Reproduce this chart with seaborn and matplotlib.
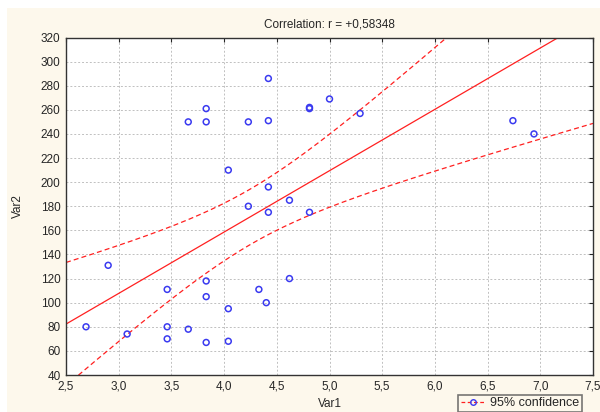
import numpy as np
import pandas as pd
import matplotlib
matplotlib.use("Agg")
import matplotlib.pyplot as plt
import seaborn as sns
from matplotlib.lines import Line2D
from matplotlib.patches import Rectangle

# Data
var1 = [2.90, 2.69, 3.08, 3.46, 3.46, 3.46, 3.66, 3.66, 3.83, 3.83,
        3.83, 3.83, 3.83, 4.04, 4.04, 4.04, 4.23, 4.23, 4.42, 4.42,
        4.42, 4.42, 4.62, 4.81, 4.81, 4.81, 5.00, 5.29, 6.74, 6.94,
        4.33, 4.40, 4.62]
var2 = [131, 80, 74, 111, 80, 70, 78, 250, 261, 250,
        118, 105, 67, 68, 95, 210, 250, 180, 175, 196,
        286, 251, 185, 261, 262, 175, 269, 257, 251, 240,
        111, 100, 120]

# fitted line as drawn in the picture (intercept, slope)
fit_intercept = -45.0
fit_slope = 50.9

x_ticks = [2.5, 3.0, 3.5, 4.0, 4.5, 5.0, 5.5, 6.0, 6.5, 7.0, 7.5]
y_ticks = list(range(40, 321, 20))

df = pd.DataFrame({"Var1": var1, "Var2": var2})

# 95% confidence band of the fitted mean
x = df["Var1"].values
y = df["Var2"].values
n = len(x)
b, a = np.polyfit(x, y, 1)
s = np.sqrt(np.sum((y - (a + b * x)) ** 2) / (n - 2))
sxx = np.sum((x - x.mean()) ** 2)
t = 2.04
xs = np.linspace(2.5, 7.5, 200)
yfit = fit_intercept + fit_slope * xs
half = t * s * np.sqrt(1 / n + (xs - x.mean()) ** 2 / sxx)
fit = pd.DataFrame({"x": xs, "fit": yfit, "lo": yfit - half, "hi": yfit + half})

sns.set_style("white")
plt.rcParams["font.family"] = ["Liberation Sans", "DejaVu Sans"]

fig = plt.figure(figsize=(6.0, 4.12), dpi=100, facecolor="white")
# cream panel behind the chart
fig.patches.append(Rectangle((7 / 600, 0), 1, 1 - 8 / 412, transform=fig.transFigure,
                             facecolor="#fdf8ec", edgecolor="none", zorder=-10))

ax = fig.add_axes([66 / 600, 1 - 375 / 412, (593 - 66) / 600, (375 - 37.5) / 412])
ax.set_facecolor("white")

sns.lineplot(data=fit, x="x", y="fit", ax=ax, color="#ff2020", lw=0.9)
sns.lineplot(data=fit, x="x", y="lo", ax=ax, color="#ff2020", lw=0.9, linestyle=(0, (4, 2.5)))
sns.lineplot(data=fit, x="x", y="hi", ax=ax, color="#ff2020", lw=0.9, linestyle=(0, (4, 2.5)))
sns.scatterplot(data=df, x="Var1", y="Var2", ax=ax, marker="o", s=18,
                facecolor="none", edgecolor="#3a3af0", linewidth=1.1, zorder=3)

ax.set_xlim(2.5, 7.5)
ax.set_ylim(40, 320)
ax.set_xticks(x_ticks)
ax.set_yticks(y_ticks)
ax.set_xticklabels([f"{v:.1f}".replace(".", ",") for v in x_ticks], fontsize=8.5)
ax.set_yticklabels([str(v) for v in y_ticks], fontsize=8.5)
ax.grid(True, color="#c0c0c0", linestyle=(0, (2, 2)), linewidth=0.7)
ax.tick_params(direction="in", length=3, right=True, top=True, pad=4)
for sp in ax.spines.values():
    sp.set_color("#333333")
    sp.set_linewidth(1.0)

ax.set_xlabel("Var1", fontsize=8.5, labelpad=4)
ax.set_ylabel("Var2", fontsize=8.5, labelpad=12)
ax.set_title("Correlation: r = +0,58348", fontsize=8.5, pad=7)

handle = Line2D([0], [0], color="#ff2020", lw=0.9, linestyle=(0, (3, 2)),
                marker="o", markersize=4, markerfacecolor="none",
                markeredgecolor="#3a3af0", markevery=[1])
leg = fig.legend([handle], ["95% confidence"], loc="upper left",
                 bbox_to_anchor=(458 / 600, 1 - 395 / 412), fontsize=9,
                 frameon=True, fancybox=False, handlelength=2.0,
                 borderpad=0.2, handletextpad=0.4, borderaxespad=0)
leg.get_frame().set_edgecolor("#555555")
leg.get_frame().set_linewidth(1.2)
leg.get_frame().set_facecolor("#fdf8ec")

fig.savefig("out.png", dpi=100, facecolor=fig.get_facecolor())
